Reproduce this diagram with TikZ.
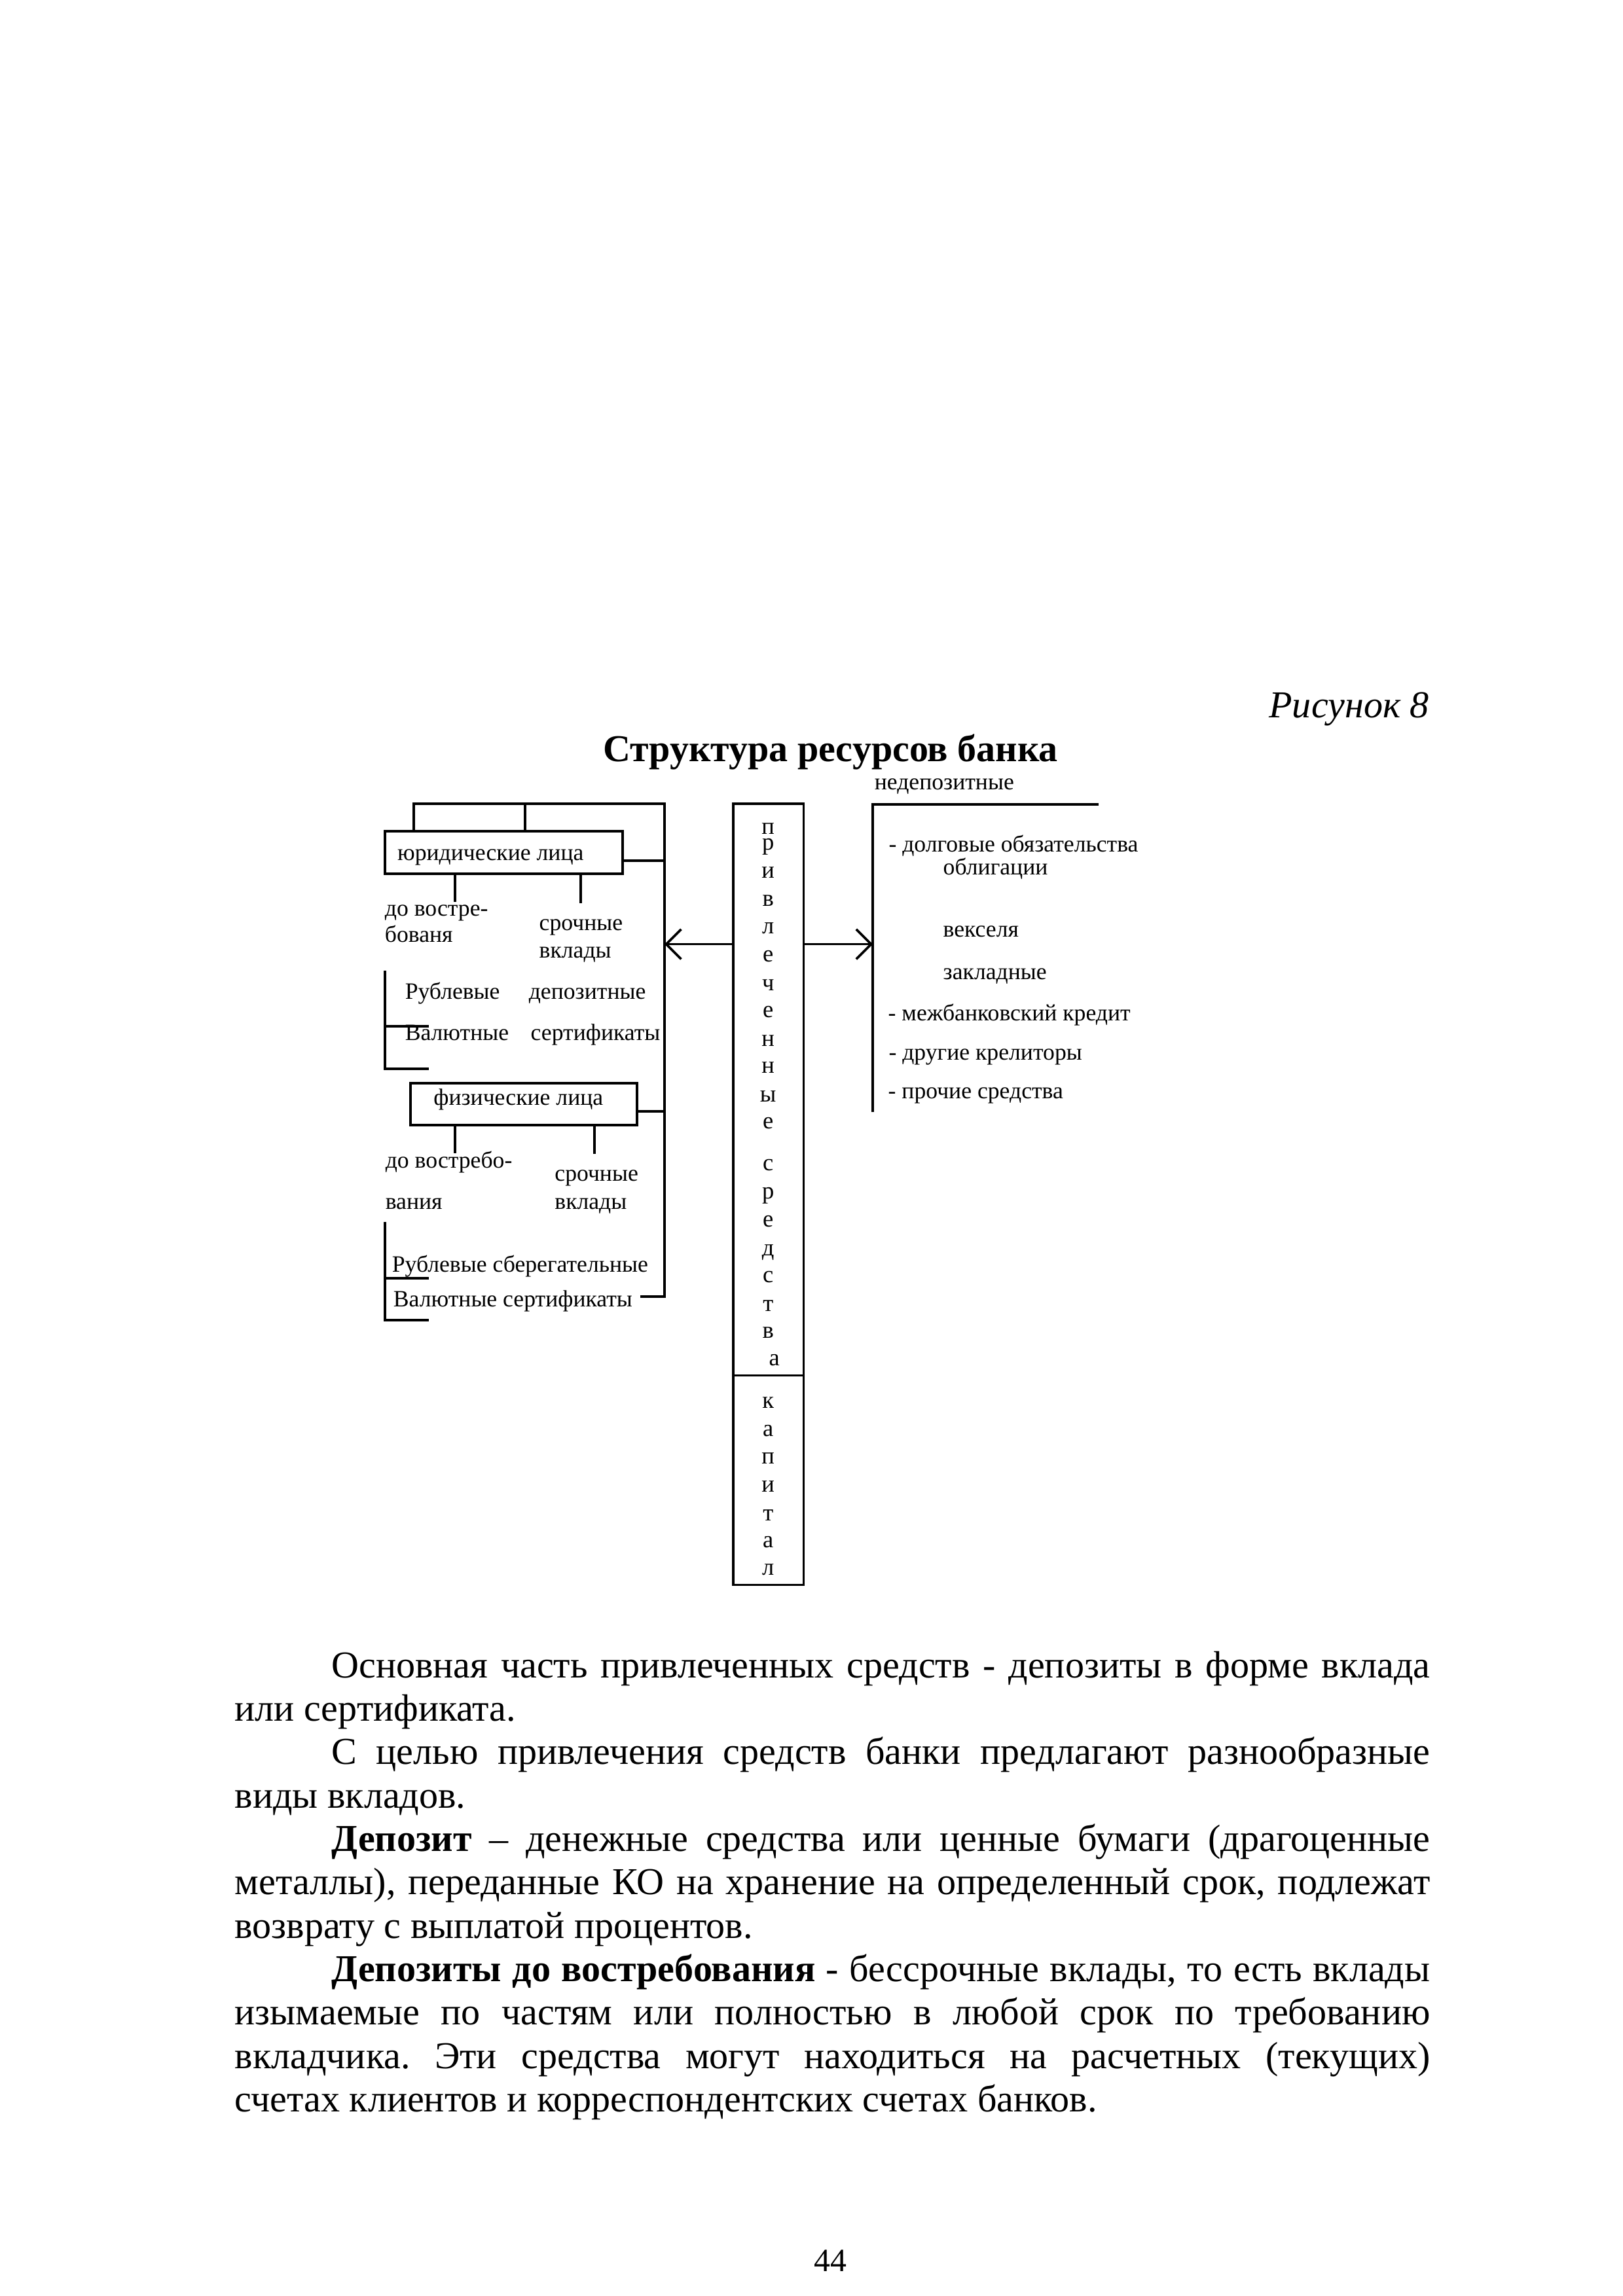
\documentclass[tikz,border=0pt]{standalone}
\usepackage{fontspec}
\setmainfont{Liberation Serif}
\usetikzlibrary{arrows.meta}
\frenchspacing
\begin{document}
\begin{tikzpicture}[x=0.18953mm, y=-0.18953mm,
  ln/.style={line width=0.9pt},
  arr/.style={-{Straight Barb[length=5.5pt,width=11pt]}},
  boxs/.style={draw, line width=0.9pt, inner sep=0pt},
  dtxt/.style={font=\fontsize{8.6}{10.3}\selectfont, inner sep=0pt, anchor=base west},
  vlet/.style={font=\fontsize{8.8}{10.5}\selectfont, inner sep=0pt, anchor=base},
  body/.style={font=\fontsize{14}{16}\selectfont, inner sep=0pt, anchor=base west}]
\path[use as bounding box, fill=white] (0,0) rectangle (1108,1568);

% headings
\node[body, anchor=base east, font=\fontsize{14}{16}\selectfont\itshape] (fig) at (976,490) {Рисунок 8};
\node[body, anchor=base, font=\fontsize{14}{16}\selectfont\bfseries] (title) at (567,520) {Структура ресурсов банка};

% boxes
\node[boxs, minimum width=30.74mm, minimum height=5.52mm] (jl) at (343.9,582.15) {};
\node[boxs, minimum width=29.32mm, minimum height=5.42mm] (fl) at (357.55,754) {};
\node[boxs, minimum width=9.12mm, minimum height=73.97mm] (pc) at (524.65,744.15) {};
\node[boxs, minimum width=9.12mm, minimum height=27.12mm] (cap) at (524.65,1010.85) {};

% left tree
\coordinate (tl) at (282.5,549);
\coordinate (tm) at (358.5,549);
\coordinate (rt) at (453.7,549);
\coordinate (rb) at (453.7,885.5);
\coordinate (rbs) at (437.1,885.5);
\draw[ln] (jl.north -| tl) -- (tl) -- (rt) -- (rb) -- (rbs);
\draw[ln] (jl.north -| tm) -- (tm);
\coordinate (jle) at ([yshift=-1.04mm]jl.east);
\draw[ln] (jle) -- (jle -| rt);
\coordinate (fle) at ([yshift=-0.93mm]fl.east);
\draw[ln] (fle) -- (fle -| rt);

\coordinate (j1) at (310.6,616);
\coordinate (j2) at (396.4,616.8);
\draw[ln] (jl.south -| j1) -- (j1);
\draw[ln] (jl.south -| j2) -- (j2);
\coordinate (f1) at (310.6,787.5);
\coordinate (f2) at (405.8,788);
\draw[ln] (fl.south -| f1) -- (f1);
\draw[ln] (fl.south -| f2) -- (f2);

% brackets
\draw[ln] (262.8,662.8) -- (262.8,729.9) -- (292.8,729.9);
\draw[ln] (262.8,700.8) -- (292.8,700.8);
\draw[ln] (262.8,834.3) -- (262.8,901.4) -- (292.8,901.4);
\draw[ln] (262.8,873) -- (292.8,873);

% arrows
\coordinate (la) at (pc.west |- 0,644.8);
\draw[ln,arr] (la) -- (la -| rt);
\coordinate (nb) at (595.9,549.4);
\coordinate (ra) at (pc.east |- 0,644.8);
\draw[ln,arr] (ra) -- (ra -| nb);
\coordinate (nbr) at (750,549.4);
\coordinate (nbb) at (595.9,759.5);
\draw[ln] (nbr) -- (nb) -- (nbb);

% left texts
\node[dtxt] (t1) at (271,587.7) {юридические лица};
\node[dtxt] (t2) at (262.4,625.7) {до востре-};
\node[dtxt] (t3) at (262.4,643.6) {бованя};
\node[dtxt] (t4) at (367.8,635.5) {срочные};
\node[dtxt] (t5) at (367.8,654) {вклады};
\node[dtxt] (t6) at (276.2,682.5) {Рублевые};
\node[dtxt] (t7) at (360.7,682.5) {депозитные};
\node[dtxt] (t8) at (276.2,710.6) {Валютные};
\node[dtxt] (t9) at (362,710.6) {сертификаты};
\node[dtxt] (t10) at (295.7,754.6) {физические лица};
\node[dtxt] (t11) at (262.8,797.8) {до востребо-};
\node[dtxt] (t12) at (262.8,826) {вания};
\node[dtxt] (t13) at (378.4,806.7) {срочные};
\node[dtxt] (t14) at (378.4,826) {вклады};
\node[dtxt] (t15) at (267.3,868.6) {Рублевые сберегательные};
\node[dtxt] (t16) at (268.2,892.4) {Валютные сертификаты};

% right texts
\node[dtxt] (r0) at (596.7,539.3) {недепозитные};
\node[dtxt] (r1) at (606.4,581.8) {- долговые обязательства};
\node[dtxt] (r2) at (643.6,597.4) {облигации};
\node[dtxt] (r3) at (643.6,639.9) {векселя};
\node[dtxt] (r4) at (643.6,668.9) {закладные};
\node[dtxt] (r5) at (606,697.2) {- межбанковский кредит};
\node[dtxt] (r6) at (606.4,724) {- другие крелиторы};
\node[dtxt] (r7) at (606,750.1) {- прочие средства};

% vertical letters
\foreach \l/\yy [count=\i] in {п/569.8, р/580.3, и/599.7, в/619, л/637.7, е/657, ч/676.4, е/695, н/714.4, н/733, ы/752.4, е/771, с/799.3, р/818.7, е/838, д/857.4, с/876, т/895.4, в/914}
  \node[vlet] (v\i) at (524.4,\yy) {\l};
\node[vlet] (v20) at (528.7,932.6) {а};
\foreach \l/\yy [count=\i] in {к/961.7, а/981, п/999.7, и/1019, т/1038.4, а/1057, л/1075.7}
  \node[vlet] (k\i) at (524.4,\yy) {\l};

% body text
\node[body] (b1) at (226,1145.7) {\makebox[142.15mm][s]{Основная часть привлеченных средств - депозиты в форме вклада}};
\node[body] (b2) at (160,1175.35) {или сертификата.};
\node[body] (b3) at (226,1205.0) {\makebox[142.15mm][s]{С целью привлечения средств банки предлагают разнообразные}};
\node[body] (b4) at (160,1234.65) {виды вкладов.};
\node[body] (b5) at (226,1264.3) {\makebox[142.15mm][s]{\textbf{Депозит} – денежные средства или ценные бумаги (драгоценные}};
\node[body] (b6) at (160,1293.95) {\makebox[154.66mm][s]{металлы), переданные КО на хранение на определенный срок, подлежат}};
\node[body] (b7) at (160,1323.6) {возврату с выплатой процентов.};
\node[body] (b8) at (226,1353.25) {\makebox[142.15mm][s]{\textbf{Депозиты до востребования} - бессрочные вклады, то есть вклады}};
\node[body] (b9) at (160,1382.9) {\makebox[154.66mm][s]{изымаемые по частям или полностью в любой срок по требованию}};
\node[body] (b10) at (160,1412.55) {\makebox[154.66mm][s]{вкладчика. Эти средства могут находиться на расчетных (текущих)}};
\node[body] (b11) at (160,1442.2) {счетах клиентов и корреспондентских счетах банков.};

\node[body, anchor=base, font=\fontsize{12}{14}\selectfont] (pg) at (567,1551) {44};
\end{tikzpicture}
\end{document}
